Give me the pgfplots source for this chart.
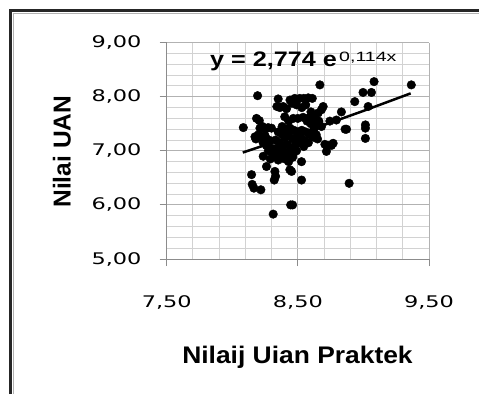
\documentclass[border=0pt]{standalone}
\usepackage{pgfplots}
\pgfplotsset{compat=1.18}
\usepackage{fontspec}
\setmainfont{Liberation Sans}
\newfontfamily\tickfont[FakeStretch=1.4]{DejaVu Sans}
\newfontfamily\labfont[FakeStretch=1.1]{Liberation Sans}
\newfontfamily\eqfont[FakeStretch=1.2]{Liberation Sans}
\newfontfamily\supfont[FakeStretch=1.45]{Liberation Sans}
\pgfplotstableread{
x y
8.084 7.43
8.193 8.02
8.185 7.60
8.206 7.56
8.173 7.26
8.180 7.22
8.147 6.56
8.152 6.38
8.165 6.31
8.218 6.28
8.261 6.71
8.236 6.90
8.312 5.83
8.445 6.00
8.460 6.00
8.528 6.46
8.528 6.80
8.439 6.65
8.452 6.62
8.325 6.62
8.330 6.53
8.320 6.46
8.891 6.40
8.668 8.22
9.081 8.28
9.365 8.22
8.997 8.08
9.061 8.08
8.934 7.91
8.832 7.72
8.871 7.40
8.860 7.40
9.015 7.48
9.015 7.42
9.015 7.23
9.036 7.82
8.693 7.82
8.680 7.76
8.655 7.70
8.706 7.12
8.731 7.10
8.756 7.10
8.769 7.14
8.718 6.99
8.744 7.55
8.794 7.57
8.211 7.42
8.230 7.45
8.250 7.40
8.274 7.43
8.299 7.42
8.200 7.30
8.225 7.25
8.250 7.28
8.235 7.15
8.260 7.10
8.280 7.20
8.300 7.05
8.275 7.00
8.312 6.96
8.290 6.85
8.320 6.93
8.350 6.83
8.376 6.90
8.350 7.96
8.440 7.94
8.477 7.97
8.515 7.97
8.545 7.97
8.579 7.98
8.610 7.97
8.340 7.82
8.363 7.80
8.388 7.82
8.414 7.78
8.455 7.88
8.490 7.85
8.530 7.80
8.560 7.85
8.600 7.72
8.625 7.65
8.400 7.63
8.430 7.55
8.465 7.60
8.500 7.60
8.540 7.62
8.570 7.55
8.600 7.50
8.630 7.45
8.660 7.55
8.380 7.45
8.410 7.40
8.440 7.42
8.470 7.38
8.500 7.35
8.530 7.38
8.560 7.35
8.590 7.30
8.620 7.25
8.650 7.22
8.350 7.35
8.380 7.30
8.400 7.25
8.430 7.28
8.460 7.22
8.490 7.20
8.520 7.25
8.550 7.20
8.580 7.15
8.330 7.20
8.360 7.15
8.390 7.10
8.420 7.12
8.450 7.05
8.480 7.10
8.510 7.15
8.545 7.08
8.340 7.05
8.370 7.00
8.400 6.98
8.430 6.95
8.460 6.92
8.490 7.00
8.400 6.85
8.430 6.80
8.460 6.88
8.620 7.38
8.640 7.30
8.590 7.62
8.610 7.55
8.680 7.45
}\pts
\pgfplotstableread{
x y
8.08 6.969
8.40 7.227
8.70 7.479
9.00 7.739
9.36 8.063
}\trend
\begin{document}
\begin{tikzpicture}[x=1bp,y=1bp]
\path[use as bounding box, fill=white] (0,0) rectangle (479,394);
\begin{axis}[
  at={(166.7bp,135bp)}, anchor=south west,
  scale only axis, width=262.3bp, height=216.3bp,
  xmin=7.5, xmax=9.5, ymin=5, ymax=9,
  xtick={7.5,8.5,9.5}, ytick={5,6,7,8,9},
  xticklabels={{7,50},{8,50},{9,50}},
  yticklabels={{5,00},{6,00},{7,00},{8,00},{9,00}},
  minor x tick num=4, minor y tick num=4,
  grid=both,
  minor grid style={gray!35, line width=1bp},
  major grid style={gray!60, line width=1bp},
  axis x line*=bottom, axis y line*=left,
  axis line style={gray!90, line width=1bp},
  tick align=outside, major tick length=7bp, minor tick length=0pt,
  tick style={gray!90, line width=1bp},
  xticklabel style={font=\tickfont\fontsize{16bp}{18bp}\selectfont, anchor=north, inner sep=0pt, yshift=-29bp},
  yticklabel style={font=\tickfont\fontsize{16bp}{18bp}\selectfont, anchor=east, inner sep=0pt, xshift=-18bp},
  clip=false,
]
\addplot[only marks, mark=*, mark size=4.3bp, black] table {\pts};
\addplot[black, line width=2.5bp, no marks] table {\trend};
\end{axis}
\node[anchor=base west, inner sep=0pt, font=\eqfont\bfseries\fontsize{21bp}{24bp}\selectfont] at (210,327.3) {y = 2,774 e};
\node[anchor=base west, inner sep=0pt, font=\supfont\fontsize{13.5bp}{15bp}\selectfont] at (339,332.3) {0,114x};
\node[anchor=base, inner sep=0pt, font=\labfont\bfseries\fontsize{24bp}{28bp}\selectfont] at (297.5,31) {Nilaij Uian Praktek};
\node[anchor=base, rotate=90, inner sep=0pt, font=\bfseries\fontsize{24.5bp}{28bp}\selectfont] at (70.7,242.3) {Nilai UAN};
\draw[black!85, line width=2.5bp] (10.5,0) -- (10.5,383.5) -- (479,383.5);
\draw[gray!60, line width=1.2bp] (13.3,0) -- (13.3,380.7) -- (479,380.7);
\end{tikzpicture}
\end{document}
